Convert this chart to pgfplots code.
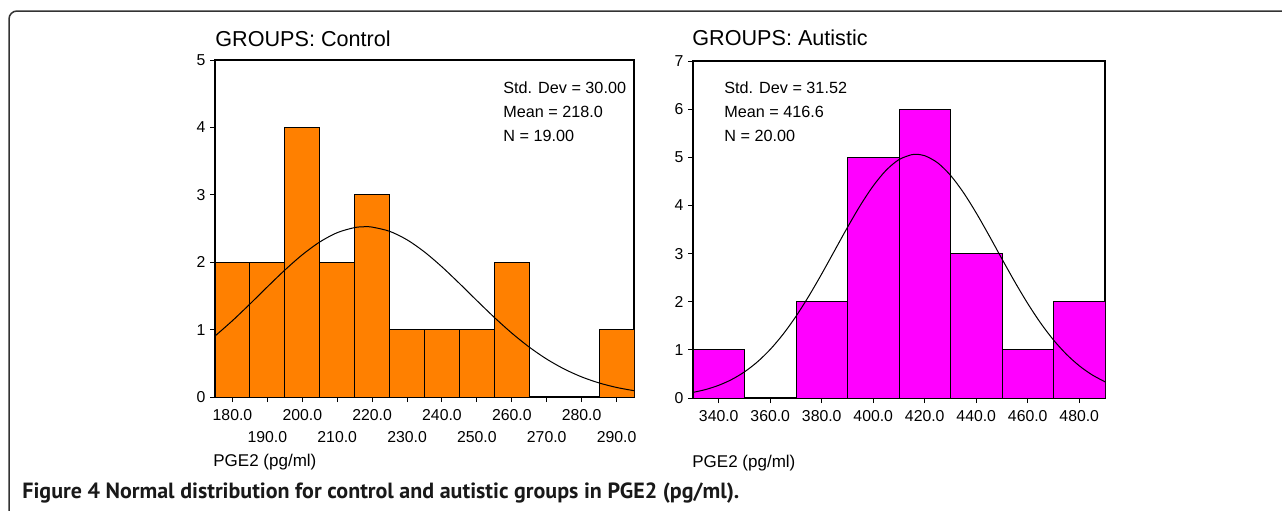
\documentclass[border=0pt]{standalone}
\usepackage{pgfplots}
\pgfplotsset{compat=1.18}
\usepackage{fontspec}
\setmainfont{Liberation Sans}
\newfontfamily\capfont{PT Sans}
\definecolor{barorange}{RGB}{255,128,0}
\definecolor{barmag}{RGB}{255,0,255}
\pgfplotsset{
  histo/.style={
    anchor=south west, scale only axis,
    axis line style={line width=0.65pt},
    tick style={black, line width=0.5pt},
    major tick length=2.5pt,
    tick align=outside,
    xtick pos=bottom, ytick pos=left,
    /pgf/number format/assume math mode=true,
    tick label style={font=\fontsize{7.9}{9}\selectfont},
    xticklabel style={/pgf/number format/fixed, /pgf/number format/fixed zerofill, /pgf/number format/precision=1, /pgf/number format/1000 sep={}},
    yticklabel style={xshift=1.2pt, /pgf/number format/fixed, /pgf/number format/precision=0},
  }
}
\begin{document}
\begin{tikzpicture}
\path[use as bounding box] (0,0) rectangle (641pt,-255pt);
\begin{scope}[x=0.5pt,y=-0.5pt]
\draw[line width=0.75pt, black!80, rounded corners=4pt] (9,514) -- (9,11) -- (1286,11);
\node[anchor=base west, inner sep=0, font=\fontsize{10.8}{12}\selectfont] at (215,46.7) {GROUPS: Control};
\node[anchor=base west, inner sep=0, font=\fontsize{10.8}{12}\selectfont] at (692,45.7) {GROUPS: Autistic};
\begin{scope}[every node/.style={anchor=base west, inner sep=0, font=\fontsize{8.1}{10}\selectfont}]
\node at (503,93.3) {Std. Dev = 30.00};
\node at (503,117.7) {Mean = 218.0};
\node at (503,141.7) {N = 19.00};
\node at (724,93.3) {Std. Dev = 31.52};
\node at (724,117.7) {Mean = 416.6};
\node at (724,141.7) {N = 20.00};
\end{scope}
\node[anchor=base west, inner sep=0, font=\fontsize{8.5}{10}\selectfont] at (213,466) {PGE2 (pg/ml)};
\node[anchor=base west, inner sep=0, font=\fontsize{8.5}{10}\selectfont] at (692,467) {PGE2 (pg/ml)};
\node[anchor=base west, inner sep=0, text=black!90, font=\capfont\bfseries\fontsize{11}{12}\selectfont] at (22,498.5) {Figure 4 Normal distribution for control and autistic groups in PGE2 (pg/ml).};
\end{scope}

\begin{axis}[histo,
  at={(107.5pt,-198.5pt)}, width=209.5pt, height=168.5pt,
  xmin=175, xmax=295, ymin=0, ymax=5,
  ytick={0,1,2,3,4,5},
  xtick={180,200,220,240,260,280},
  extra x ticks={190,210,230,250,270,290},
  extra x tick style={xticklabel style={yshift=-11pt}},
]
\addplot[ybar, bar width=10, fill=barorange, draw=black, line width=0.5pt] coordinates {
(180,2) (190,2) (200,4) (210,2) (220,3) (230,1) (240,1) (250,1) (260,2) (290,1)};
\addplot[black, line width=0.5pt, smooth] coordinates {
(175,0.9045) (180,1.1328) (185,1.3797) (190,1.6345) (195,1.8833) (200,2.1104)
(205,2.3002) (210,2.4384) (215,2.5140) (218,2.5266) (220,2.5210) (225,2.4588)
(230,2.3324) (235,2.1519) (240,1.9309) (245,1.6852) (250,1.4304) (255,1.1810)
(260,0.9483) (265,0.7406) (270,0.5625) (275,0.4156) (280,0.2986) (285,0.2087)
(290,0.1418) (295,0.0938)};
\end{axis}

\begin{axis}[histo,
  at={(346.5pt,-199pt)}, width=206pt, height=168.5pt,
  xmin=330, xmax=490, ymin=0, ymax=7,
  ytick={0,1,2,3,4,5,6,7},
  xtick={340,360,380,400,420,440,460,480},
]
\addplot[ybar, bar width=20, fill=barmag, draw=black, line width=0.5pt] coordinates {
(340,1) (380,2) (400,5) (420,6) (440,3) (460,1) (480,2)};
\addplot[black, line width=0.5pt, smooth] coordinates {
(330,0.1163) (335,0.1775) (340,0.2642) (345,0.3837) (350,0.5433) (355,0.7500)
(360,1.0097) (365,1.3256) (370,1.6973) (375,2.1191) (380,2.5799) (385,3.0628)
(390,3.5460) (395,4.0033) (400,4.4071) (405,4.7312) (410,4.9529) (415,5.0562)
(416.6,5.0627) (420,5.0333) (425,4.8861) (430,4.6253) (435,4.2696) (440,3.8434)
(445,3.3735) (450,2.8877) (455,2.4104) (460,1.9621) (465,1.5573) (470,1.2054)
(475,0.9098) (480,0.6696) (485,0.4806) (490,0.3363)};
\end{axis}
\end{tikzpicture}
\end{document}
